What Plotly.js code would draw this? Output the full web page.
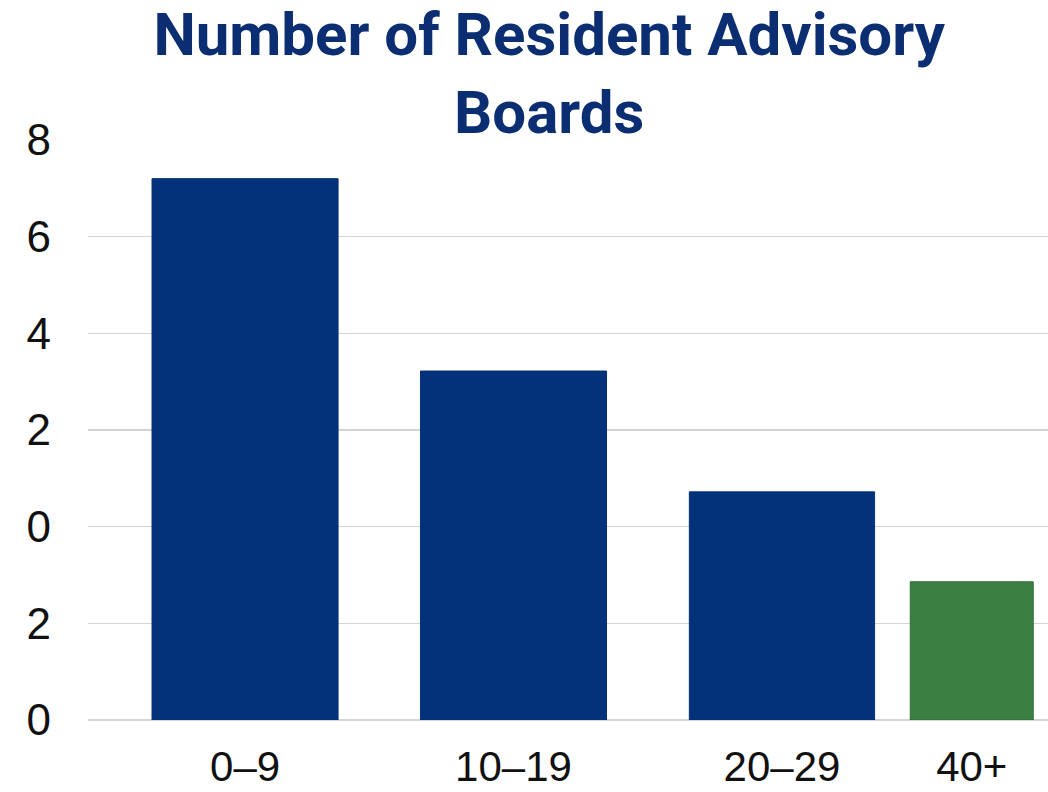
<!DOCTYPE html>
<html>
<head>
<meta charset="utf-8">
<script src="https://cdn.plot.ly/plotly-3.0.1.min.js"></script>
<style>
  html, body { margin: 0; padding: 0; background: #ffffff; }
  #chart { width: 1048px; height: 792px; }
</style>
</head>
<body>
<div id="chart"></div>
<script>
// ---- data ----
const categories = ["0\u20139", "10\u201319", "20\u201329", "40+"];
const values = [11.2, 7.22, 4.72, 2.86];
const yTickValues = [0, 2, 4, 6, 8, 10, 12];
const yTickLabels = ["0", "2", "0", "2", "4", "6", "8"];
const barColors = ["#03317a", "#03317a", "#03317a", "#3b7f42"];
const barLineColors = ["#03317a", "#03317a", "#03317a", "#2b6f32"];

// ---- layout helpers (positions / sizes) ----
const barPositions = [0, 1, 2, 2.707];
const barWidths = [0.693, 0.693, 0.69, 0.458];

const trace = {
  type: "bar",
  x: barPositions,
  y: values,
  width: barWidths,
  marker: { color: barColors, line: { color: barLineColors, width: 1 } },
  hoverinfo: "skip"
};

const layout = {
  width: 1048,
  height: 792,
  paper_bgcolor: "#ffffff",
  plot_bgcolor: "#ffffff",
  margin: { l: 88, r: 0, t: 140, b: 72 },
  showlegend: false,
  title: {
    text: "Number of Resident Advisory<br>Boards",
    font: { family: "Roboto, 'Open Sans', sans-serif", size: 60, color: "#0b2e73", weight: "bold" },
    xref: "container", x: 0.524, xanchor: "center",
    yref: "container", y: 0.93, yanchor: "top"
  },
  xaxis: {
    range: [-0.585, 2.991],
    tickmode: "array",
    tickvals: barPositions,
    ticktext: categories,
    showgrid: false,
    zeroline: false,
    showline: false,
    ticks: "",
    ticklabelstandoff: 18,
    tickfont: { family: "'Liberation Sans', Arial, sans-serif", size: 42, color: "#111111" }
  },
  yaxis: {
    range: [0, 12],
    tickmode: "array",
    tickvals: yTickValues,
    ticktext: yTickLabels,
    showgrid: true,
    gridcolor: "#d3d3d3",
    gridwidth: 1.5,
    zeroline: true,
    zerolinecolor: "#d3d3d3",
    zerolinewidth: 1.5,
    showline: false,
    ticks: "",
    ticklabelstandoff: 36,
    tickfont: { family: "'Liberation Sans', Arial, sans-serif", size: 44, color: "#111111" }
  }
};

Plotly.newPlot("chart", [trace], layout, { displayModeBar: false, staticPlot: true });
</script>
</body>
</html>
